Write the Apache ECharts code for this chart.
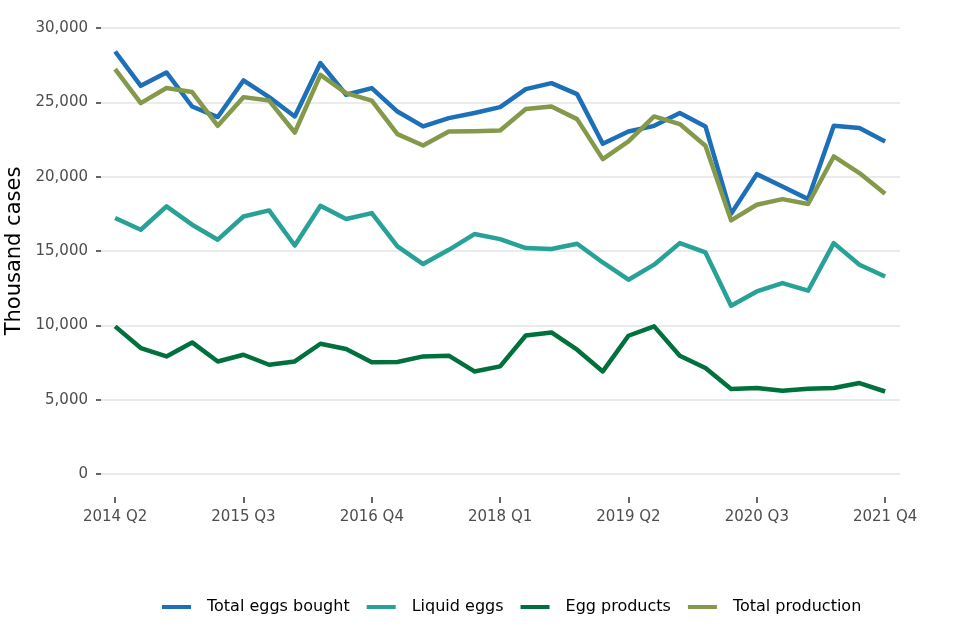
<!DOCTYPE html>
<html>
<head>
<meta charset="utf-8">
<script src="https://cdn.jsdelivr.net/npm/echarts@6/dist/echarts.min.js"></script>
<style>
html,body{margin:0;padding:0;background:#fff;}
#chart{width:960px;height:640px;}
</style>
</head>
<body>
<div id="chart"></div>
<script>
var quarters = ["2014 Q2","2014 Q3","2014 Q4","2015 Q1","2015 Q2","2015 Q3","2015 Q4","2016 Q1","2016 Q2","2016 Q3","2016 Q4","2017 Q1","2017 Q2","2017 Q3","2017 Q4","2018 Q1","2018 Q2","2018 Q3","2018 Q4","2019 Q1","2019 Q2","2019 Q3","2019 Q4","2020 Q1","2020 Q2","2020 Q3","2020 Q4","2021 Q1","2021 Q2","2021 Q3","2021 Q4"];
var xTickIndex = [0,5,10,15,20,25,30];
var yTicks = [0,5000,10000,15000,20000,25000,30000];

var totalEggsBought = [28420,26110,27010,24720,24010,26470,25350,24050,27640,25510,25960,24380,23380,23940,24280,24680,25890,26290,25550,22210,23040,23420,24280,23380,17500,20170,19340,18490,23420,23270,22370];
var liquidEggs = [17220,16430,18000,16770,15760,17320,17730,15370,18040,17150,17550,15310,14120,15080,16140,15800,15200,15130,15490,14230,13070,14080,15530,14900,11320,12280,12840,12330,15530,14080,13290];
var eggProducts = [9930,8470,7910,8850,7570,8020,7350,7570,8760,8410,7510,7530,7910,7960,6900,7240,9320,9520,8360,6900,9300,9930,7960,7130,5720,5780,5600,5740,5780,6120,5550];
var totalProduction = [27230,24950,25960,25690,23420,25350,25120,22970,26850,25620,25120,22860,22100,23040,23060,23110,24550,24720,23870,21180,22370,24050,23540,22080,17060,18110,18490,18160,21360,20240,18850];

var seriesNames = ["Total eggs bought","Liquid eggs","Egg products","Total production"];
var seriesColors = ["#1D70B8","#28A197","#00703C","#85994B"];
var seriesData = [totalEggsBought, liquidEggs, eggProducts, totalProduction];

var FONT = "DejaVu Sans";
var chart = echarts.init(document.getElementById('chart'), null, {renderer:'canvas'});

function pairs(arr){ return arr.map(function(v,i){ return [i, v]; }); }

var option = {
  backgroundColor: '#ffffff',
  animation: false,
  textStyle: {fontFamily: FONT},
  grid: {left: 101, right: 60, top: 28, bottom: 166, containLabel: false, outerBoundsMode: 'none'},
  legend: {
    left: 157, top: 594,
    icon: 'rect', itemWidth: 29, itemHeight: 4, itemGap: 17,
    data: seriesNames,
    textStyle: {fontFamily: FONT, fontSize: 16, color: '#000', padding: [0,0,0,11]}
  },
  xAxis: {
    type: 'value', min: -0.55, max: 30.58,
    offset: 23,
    axisLine: {show: false, onZero: false},
    splitLine: {show: false},
    axisTick: {show: true, customValues: xTickIndex, length: 6, lineStyle: {color: '#333', width: 1.5}},
    axisLabel: {customValues: xTickIndex, formatter: function(v){ return quarters[Math.round(v)]; },
      color: '#4D4D4D', fontSize: 15, fontFamily: FONT, margin: 13}
  },
  yAxis: {
    type: 'value', min: 0, max: 30000, interval: 5000,
    name: 'Thousand cases', nameLocation: 'middle', nameGap: 72,
    nameTextStyle: {fontFamily: FONT, fontSize: 21, color: '#000'},
    axisLine: {show: false, onZero: false},
    axisTick: {show: true, length: 5, lineStyle: {color: '#333', width: 1.5}},
    splitLine: {show: true, lineStyle: {color: '#E5E5E5', width: 1.5}},
    axisLabel: {color: '#4D4D4D', fontSize: 15, fontFamily: FONT, margin: 13,
      formatter: function(v){ return v.toLocaleString('en-US'); }}
  },
  series: seriesNames.map(function(name, k){
    return {
      name: name, type: 'line', data: pairs(seriesData[k]),
      showSymbol: false, symbol: 'none',
      lineStyle: {color: seriesColors[k], width: 4.5, cap: 'butt', join: 'round'},
      itemStyle: {color: seriesColors[k]},
      clip: false
    };
  })
};
chart.setOption(option);
</script>
</body>
</html>
